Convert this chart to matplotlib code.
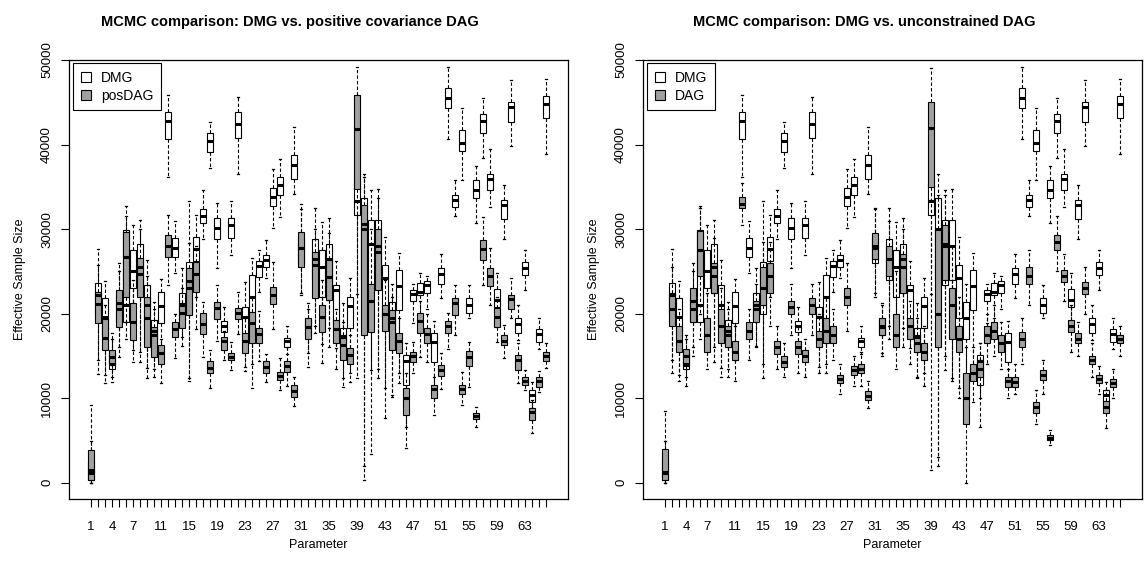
"""
Effective sample size boxplots per parameter: DMG vs. DAG samplers (two panels).
"""
import matplotlib
matplotlib.use('Agg')
import matplotlib.pyplot as plt
from matplotlib.patches import Patch

plt.rcParams['font.family'] = ['Liberation Sans', 'DejaVu Sans']

params = list(range(1, 67))
tick_labels = [1, 4, 7, 11, 15, 19, 23, 27, 31, 35, 39, 43, 47, 51, 55, 59, 63]
y_ticks = [0, 10000, 20000, 30000, 40000, 50000]

# DMG (white boxes, same in both panels)
dmg_lo = [0, 14500, 12750, 12500, 16000, 17000, 15700, 14300, 13540, 13500,
          14500, 36200, 24830, 16200, 12350, 22000, 28880, 37230, 25340, 16000,
          26990, 36560, 13730, 14000, 22590, 24240, 30140, 31440, 15200, 34200,
          22500, 15400, 18570, 16400, 18260, 15980, 12430, 13000, 22270, 1930,
          13340, 12360, 11180, 10400, 13000, 6550, 18850, 19500, 20500, 11500,
          21800, 40690, 31600, 35810, 19440, 30730, 38450, 32620, 18500, 28880,
          39780, 16880, 22780, 8800, 15780, 38920]
dmg_q1 = [300, 20000, 17500, 13400, 19000, 19000, 23000, 22500, 18500, 16000,
          18850, 40700, 26720, 19200, 20000, 26210, 30770, 39110, 28800, 17790,
          28960, 40810, 17500, 19000, 24360, 25500, 32740, 34000, 16090, 35970,
          26000, 17500, 24000, 22000, 23000, 18500, 15500, 18340, 31640, 24000,
          23370, 24000, 19500, 17000, 20420, 11570, 21480, 22190, 22390, 14320,
          23470, 44270, 32620, 39230, 20030, 33720, 41400, 34670, 20820, 31240,
          42660, 17750, 24550, 9600, 16680, 43170]
dmg_med = [1100, 22200, 19600, 14100, 20500, 21000, 25100, 25500, 21000, 18000,
           20900, 42740, 27820, 21000, 23000, 27700, 31520, 40450, 30180, 18570,
           30460, 42460, 19640, 22000, 25620, 26330, 33800, 35180, 16760, 37620,
           27800, 18400, 26500, 25540, 26500, 22780, 17270, 20890, 33300, 30000,
           28180, 28000, 24240, 19500, 23260, 14360, 22270, 22590, 23370, 16590,
           24710, 45510, 33410, 40240, 21010, 34670, 42770, 35970, 21600, 32820,
           44430, 18770, 25340, 10390, 17590, 44820]
dmg_q3 = [2500, 23600, 21800, 15300, 22000, 29870, 27500, 28200, 23400, 19240,
          22600, 43830, 28890, 22400, 26050, 29080, 32350, 41360, 31320, 19120,
          31360, 43840, 20740, 24550, 26210, 26990, 34860, 36160, 17160, 38800,
          29000, 19400, 28880, 27510, 28290, 23370, 18340, 22000, 35500, 33700,
          31050, 31130, 25810, 21400, 25140, 15150, 22780, 23650, 23850, 17670,
          25340, 46690, 34040, 41770, 21800, 35850, 43560, 36560, 22860, 33490,
          45020, 19440, 26130, 10980, 18140, 45800]
dmg_hi = [4900, 27700, 23850, 17000, 25000, 32700, 30460, 31100, 26330, 21400,
          24100, 45900, 30970, 25400, 33330, 31640, 34590, 42660, 33130, 20810,
          33330, 45610, 23770, 26600, 27580, 28690, 37150, 38250, 18570, 42070,
          32420, 21210, 32500, 30850, 31320, 26210, 21210, 24160, 40000, 36560,
          34590, 34790, 29080, 23450, 27230, 16490, 23500, 24750, 24480, 19120,
          27050, 49150, 35810, 44310, 23370, 37420, 45530, 39510, 24750, 35180,
          47650, 21010, 27580, 11960, 19440, 47770]

# positive covariance DAG (grey boxes, left panel)
pos_lo = [0, 12900, 11850, 11900, 14900, 19000, 14300, 15500, 12360, 12550,
          11770, 23370, 14720, 17270, 12040, 18180, 14910, 11250, 16760, 14520,
          13340, 17550, 13220, 11250, 14400, 11960, 18180, 10980, 11450, 9090,
          22190, 13650, 17670, 14130, 16090, 13460, 11370, 11960, 12360, 350,
          3380, 13420, 7630, 10190, 11770, 4130, 13020, 14910, 14320, 8030,
          11060, 15840, 17470, 9150, 11370, 6650, 23370, 21010, 16680, 14720,
          19440, 11770, 10980, 5860, 10780, 13540]
pos_q1 = [350, 18900, 15700, 13900, 18450, 22000, 16880, 22000, 16100, 14910,
          14100, 26720, 17270, 18260, 19830, 22510, 17550, 12950, 19360, 15700,
          14520, 19320, 15390, 16490, 16490, 12950, 21090, 12160, 13140, 10190,
          25540, 16960, 21880, 17870, 21600, 16490, 14520, 14010, 34790, 17470,
          17860, 22780, 18000, 15700, 15310, 8070, 14320, 17670, 16490, 10030,
          12590, 17670, 19830, 10550, 13790, 7520, 26330, 23260, 18460, 16290,
          20500, 13340, 11570, 7440, 11290, 14440]
pos_med = [1450, 21100, 17100, 14900, 21200, 26700, 19050, 24700, 19440, 17470,
           15300, 27980, 18140, 20100, 23850, 24670, 18730, 13620, 20700, 16760,
           14910, 20030, 16760, 18850, 17550, 13730, 22190, 12670, 13810, 10900,
           27780, 18380, 25810, 19640, 24360, 18180, 16290, 15110, 41790, 30650,
           21480, 27310, 19910, 19050, 16720, 10070, 14950, 19080, 17570, 11080,
           13340, 18500, 21200, 11080, 14910, 7910, 27620, 24440, 19640, 16800,
           21680, 14520, 12080, 8420, 12080, 14990]
pos_q3 = [3900, 22600, 19400, 15700, 22800, 29700, 21200, 26600, 22000, 18450,
          16300, 29280, 19050, 21250, 25340, 26050, 20030, 14400, 21400, 17270,
          15390, 20700, 17670, 20230, 18260, 14400, 23180, 13140, 14440, 11570,
          29670, 19440, 27310, 21010, 26440, 19240, 17470, 15980, 45880, 32900,
          23450, 29980, 21010, 20420, 17670, 11180, 15500, 20030, 18300, 11610,
          13930, 19140, 21900, 11570, 15540, 8220, 28760, 25340, 20620, 17470,
          22190, 15110, 12550, 8810, 12470, 15500]
pos_hi = [9200, 25800, 21000, 17700, 26000, 31500, 24000, 30000, 24500, 20500,
          17000, 31720, 19910, 23000, 28370, 28000, 21400, 15700, 23370, 18000,
          16680, 22590, 19500, 22000, 20300, 15190, 26050, 14720, 16000, 12550,
          32940, 20500, 30000, 24000, 29500, 20500, 19000, 17500, 49150, 36160,
          30000, 33680, 24000, 22000, 19500, 13000, 16620, 21500, 20000, 12500,
          15350, 20130, 23370, 13140, 16680, 9010, 31440, 27780, 22000, 18650,
          24160, 16500, 13340, 9800, 13260, 16570]

# unconstrained DAG (grey boxes, right panel)
dag_lo = [0, 13000, 12000, 11500, 15000, 20000, 13500, 16000, 12500, 12500,
          12000, 30500, 14500, 16000, 14000, 18500, 13500, 12500, 17500, 13000,
          12500, 17500, 13000, 13000, 14500, 10500, 18000, 11500, 11500, 8800,
          22000, 15000, 17000, 13500, 16000, 14000, 12500, 11500, 1500, 3000,
          15000, 12000, 10000, 0, 9500, 10000, 14000, 15000, 13500, 10000,
          10500, 14000, 21000, 7000, 10500, 4500, 25000, 21500, 15500, 15000,
          20000, 12500, 10500, 6500, 10000, 15000]
dag_q1 = [300, 18500, 15500, 13800, 19000, 24500, 15500, 22500, 16500, 16000,
          14500, 32500, 17000, 19000, 21000, 22500, 15200, 13700, 20000, 15200,
          14300, 20000, 16000, 16500, 16500, 11800, 21000, 12800, 13000, 9800,
          26500, 17500, 24500, 16000, 22500, 17000, 15500, 14500, 35000, 16000,
          24000, 17000, 15500, 7000, 12000, 12500, 16500, 17000, 15500, 11300,
          11300, 16000, 23500, 8200, 12200, 5000, 27500, 23800, 17800, 16500,
          22300, 14000, 11800, 8200, 11300, 16500]
dag_med = [1300, 20500, 16800, 15000, 21500, 27500, 17500, 24500, 18500, 17500,
           15500, 33000, 18000, 20500, 23000, 24500, 16000, 14300, 20800, 16000,
           15000, 21000, 17000, 18000, 17500, 12300, 22000, 13300, 13500, 10300,
           28000, 18500, 26500, 17500, 25500, 18500, 16500, 15500, 42000, 20000,
           28000, 21000, 17000, 10000, 13000, 13500, 17500, 18000, 16500, 12000,
           11900, 17000, 24500, 9000, 12800, 5300, 28500, 24500, 18500, 17000,
           23000, 14500, 12300, 9000, 11800, 17000]
dag_q3 = [4000, 22500, 18500, 15800, 23000, 29800, 19500, 26000, 20500, 18500,
          16800, 33800, 19000, 21500, 25500, 26000, 16800, 15000, 21500, 16800,
          15700, 21800, 18000, 19500, 18500, 12800, 23000, 13800, 14000, 10800,
          29500, 19500, 28000, 20000, 27000, 19500, 17500, 16500, 45000, 30000,
          30500, 23000, 18500, 13000, 14000, 14500, 18500, 19000, 17500, 12500,
          12500, 17800, 25500, 9600, 13300, 5600, 29300, 25200, 19300, 17700,
          23800, 15000, 12700, 9700, 12300, 17500]
dag_hi = [8500, 25500, 20500, 17500, 26000, 32500, 22500, 29000, 23000, 20500,
          18500, 35500, 20500, 23500, 28500, 28500, 18500, 16500, 23500, 18500,
          17000, 23500, 20000, 22000, 20500, 14000, 26000, 15000, 15500, 12000,
          32500, 21000, 31000, 25000, 30000, 21500, 19500, 18500, 49000, 34000,
          34000, 28000, 22000, 16000, 16000, 16500, 20000, 21000, 19000, 13500,
          14000, 19500, 27500, 11000, 14500, 6200, 31500, 27000, 21000, 19000,
          25500, 16500, 13800, 11000, 13500, 18500]

GREY = '#a0a0a0'


def box_stats(lo, q1, med, q3, hi):
    return [dict(whislo=a, q1=b, med=c, q3=d, whishi=e)
            for a, b, c, d, e in zip(lo, q1, med, q3, hi)]


def draw_boxes(ax, stats, color):
    ax.bxp(stats, positions=params, widths=0.8, capwidths=0.4,
           showfliers=False, patch_artist=True, manage_ticks=False,
           boxprops=dict(facecolor=color, edgecolor='black', linewidth=0.8),
           medianprops=dict(color='black', linewidth=2.2, solid_capstyle='butt'),
           whiskerprops=dict(color='black', linewidth=0.8, linestyle=(0, (3, 2))),
           capprops=dict(color='black', linewidth=0.9))


fig = plt.figure(figsize=(11.48, 5.62), dpi=100)
W, H = 1148, 562

panels = [
    (69, 'MCMC comparison: DMG vs. positive covariance DAG', 290,
     (pos_lo, pos_q1, pos_med, pos_q3, pos_hi), 'posDAG'),
    (643, 'MCMC comparison: DMG vs. unconstrained DAG', 864,
     (dag_lo, dag_q1, dag_med, dag_q3, dag_hi), 'DAG'),
]

for left, title, title_x, dag, dag_name in panels:
    ax = fig.add_axes([left / W, (H - 499) / H, 499 / W, 439 / H])
    draw_boxes(ax, box_stats(dmg_lo, dmg_q1, dmg_med, dmg_q3, dmg_hi), 'white')
    draw_boxes(ax, box_stats(*dag), GREY)

    ax.set_xlim(-2.14, 69.14)
    ax.set_ylim(-1923, 50000)
    ax.set_xticks(params)
    ax.set_xticklabels([str(p) if p in tick_labels else '' for p in params],
                       fontsize=9.5)
    ax.set_yticks(y_ticks)
    ax.set_yticklabels([str(v) for v in y_ticks], rotation=90, va='center',
                       fontsize=9.5)
    ax.tick_params(direction='out', length=5.5, width=0.8)
    ax.tick_params(axis='x', pad=10)
    ax.tick_params(axis='y', pad=6)
    for s in ax.spines.values():
        s.set_linewidth(0.9)

    ax.set_xlabel('Parameter', fontsize=9, labelpad=5)
    ax.set_ylabel('Effective Sample Size', fontsize=9, labelpad=11)
    fig.text(title_x / W, 1 - 22 / H, title, fontsize=10.5, fontweight='bold',
             ha='center', va='center')

    handles = [Patch(facecolor='white', edgecolor='black', linewidth=0.8, label='DMG'),
               Patch(facecolor=GREY, edgecolor='black', linewidth=0.8, label=dag_name)]
    leg = ax.legend(handles=handles, loc='upper left',
                    bbox_to_anchor=(4 / 499, 1 - 3 / 439), borderaxespad=0,
                    fontsize=10, handlelength=0.75, handleheight=0.75,
                    handletextpad=0.7, labelspacing=0.3, borderpad=0.55,
                    fancybox=False, framealpha=1, edgecolor='black')
    leg.get_frame().set_linewidth(0.8)

fig.savefig('out.png', dpi=100)
